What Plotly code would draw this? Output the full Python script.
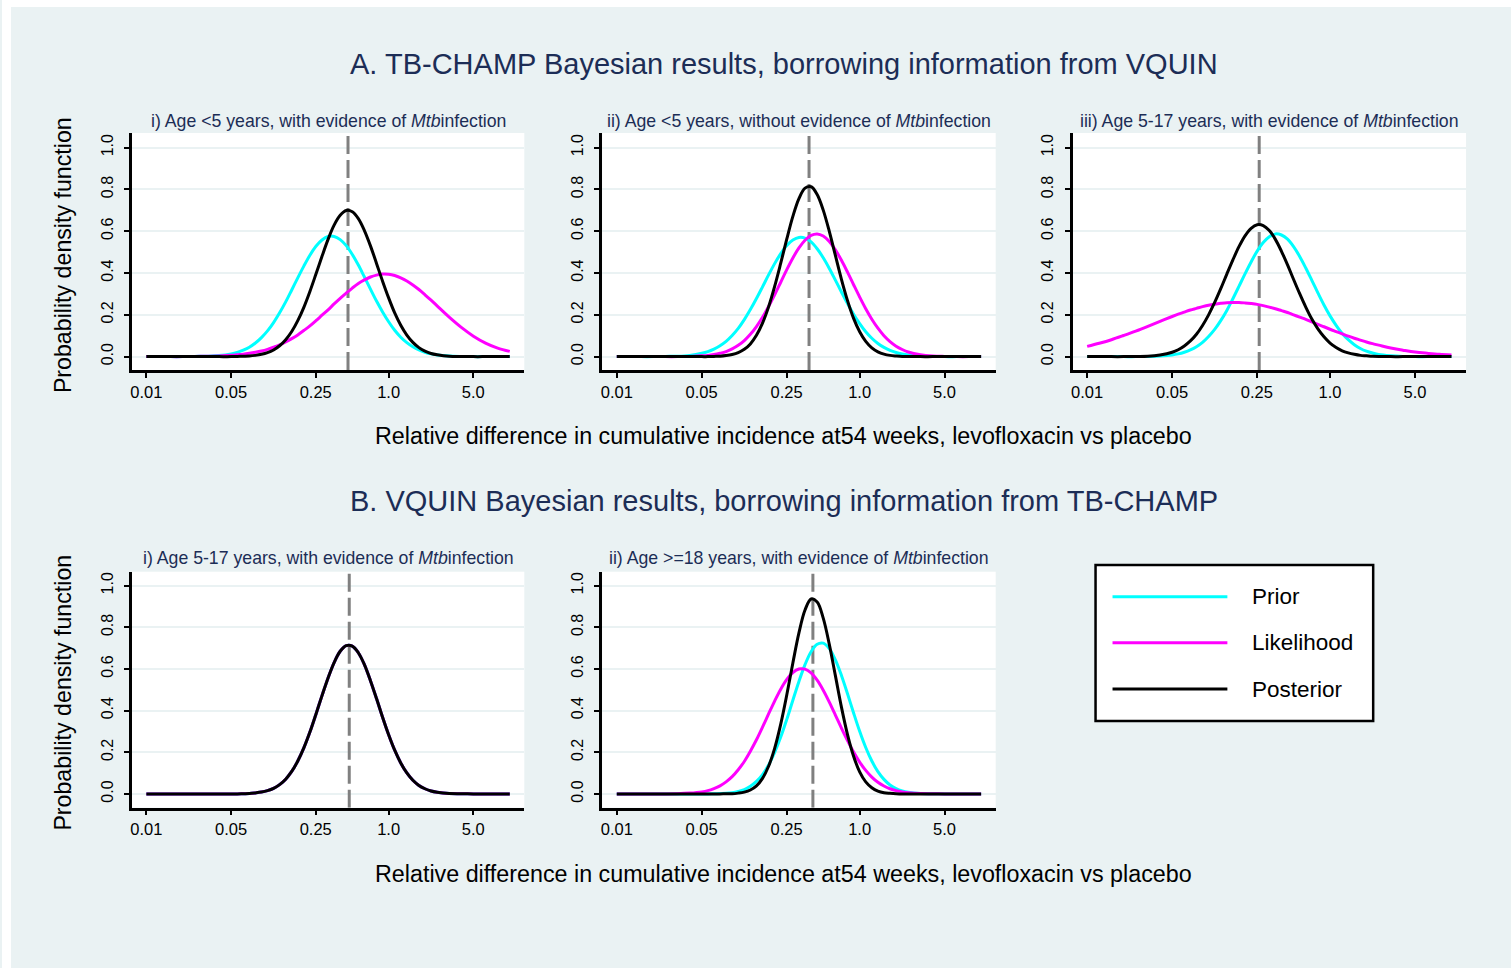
import plotly.graph_objects as go

W, H = 1511, 968

# ---------------- data ----------------
rel_diff = [0.01, 0.01259, 0.01585, 0.01995, 0.02512, 0.03162, 0.03981, 0.05012,
            0.05623, 0.0631, 0.07079, 0.07943, 0.08913, 0.1, 0.1122, 0.1259, 0.1413, 0.1585,
            0.1778, 0.1995, 0.2239, 0.2512, 0.2818, 0.3162, 0.3548, 0.3981, 0.4467, 0.5012,
            0.5623, 0.631, 0.7079, 0.7943, 0.8913, 1.0, 1.122, 1.259, 1.413, 1.585, 1.778,
            1.995, 2.239, 2.512,
            3.162, 3.981, 5.012, 6.31, 7.943, 10.0]

a1_prior = [0, 0, 0, 0, 0.001, 0.002, 0.005, 0.013,
            0.020, 0.031, 0.045, 0.065, 0.091, 0.123, 0.163, 0.210, 0.262, 0.319, 0.377, 0.433,
            0.485, 0.528, 0.558, 0.575, 0.575, 0.560, 0.531, 0.489, 0.438, 0.381, 0.323, 0.266,
            0.214, 0.167, 0.126, 0.093, 0.067, 0.047, 0.032, 0.021, 0.013, 0.008,
            0.003, 0.001, 0, 0, 0, 0]
a1_lik = [0, 0, 0, 0, 0.001, 0.002, 0.003, 0.006,
          0.009, 0.012, 0.016, 0.021, 0.027, 0.035, 0.045, 0.056, 0.070, 0.086, 0.104, 0.125,
          0.147, 0.172, 0.198, 0.224, 0.252, 0.279, 0.304, 0.328, 0.350, 0.367, 0.381, 0.390,
          0.395, 0.394, 0.388, 0.377, 0.362, 0.343, 0.321, 0.296, 0.270, 0.243,
          0.189, 0.140, 0.098, 0.065, 0.041, 0.025]
a1_post = [0, 0, 0, 0, 0, 0, 0, 0,
           0.001, 0.002, 0.003, 0.006, 0.011, 0.019, 0.032, 0.052, 0.081, 0.120, 0.172, 0.236,
           0.312, 0.395, 0.480, 0.561, 0.629, 0.676, 0.699, 0.693, 0.660, 0.603, 0.530, 0.446,
           0.361, 0.281, 0.209, 0.150, 0.103, 0.068, 0.043, 0.026, 0.015, 0.009,
           0.002, 0.001, 0, 0, 0, 0]

a2_prior = [0, 0, 0, 0, 0.001, 0.002, 0.006, 0.016,
            0.024, 0.036, 0.052, 0.073, 0.101, 0.135, 0.177, 0.225, 0.278, 0.334, 0.391, 0.445,
            0.493, 0.532, 0.558, 0.570, 0.567, 0.549, 0.516, 0.473, 0.422, 0.366, 0.309, 0.254,
            0.203, 0.158, 0.119, 0.088, 0.063, 0.044, 0.030, 0.020, 0.013, 0.008,
            0.003, 0.001, 0, 0, 0, 0]
a2_lik = [0, 0, 0, 0, 0, 0, 0.001, 0.004,
          0.006, 0.010, 0.016, 0.024, 0.037, 0.054, 0.077, 0.107, 0.144, 0.188, 0.240, 0.296,
          0.356, 0.416, 0.472, 0.520, 0.557, 0.580, 0.587, 0.577, 0.551, 0.511, 0.461, 0.404,
          0.344, 0.285, 0.229, 0.179, 0.136, 0.100, 0.072, 0.050, 0.034, 0.022,
          0.009, 0.003, 0.001, 0, 0, 0]
a2_post = [0, 0, 0, 0, 0, 0, 0, 0,
           0, 0.001, 0.002, 0.005, 0.010, 0.019, 0.035, 0.061, 0.102, 0.160, 0.238, 0.336,
           0.447, 0.563, 0.671, 0.756, 0.806, 0.813, 0.776, 0.701, 0.599, 0.484, 0.370, 0.268,
           0.183, 0.119, 0.073, 0.042, 0.023, 0.012, 0.006, 0.003, 0.001, 0.001,
           0, 0, 0, 0, 0, 0]

a3_prior = [0, 0, 0, 0, 0, 0.001, 0.003, 0.008,
            0.013, 0.021, 0.032, 0.047, 0.068, 0.096, 0.130, 0.172, 0.221, 0.277, 0.336, 0.396,
            0.453, 0.505, 0.546, 0.574, 0.587, 0.582, 0.562, 0.526, 0.479, 0.424, 0.365, 0.305,
            0.247, 0.195, 0.150, 0.111, 0.081, 0.057, 0.039, 0.026, 0.017, 0.010,
            0.004, 0.001, 0, 0, 0, 0]
a3_lik = [0.049, 0.064, 0.081, 0.101, 0.122, 0.145, 0.169, 0.192,
          0.203, 0.213, 0.223, 0.231, 0.239, 0.246, 0.251, 0.255, 0.258, 0.259, 0.259, 0.257,
          0.254, 0.250, 0.244, 0.237, 0.229, 0.220, 0.211, 0.200, 0.189, 0.178, 0.166, 0.154,
          0.143, 0.131, 0.120, 0.109, 0.098, 0.088, 0.079, 0.070, 0.062, 0.055,
          0.041, 0.031, 0.022, 0.016, 0.011, 0.008]
a3_post = [0, 0, 0, 0, 0.001, 0.002, 0.008, 0.021,
           0.033, 0.051, 0.075, 0.107, 0.149, 0.200, 0.259, 0.325, 0.395, 0.463, 0.526, 0.578,
           0.614, 0.631, 0.627, 0.603, 0.561, 0.504, 0.439, 0.369, 0.301, 0.237, 0.180, 0.133,
           0.095, 0.065, 0.044, 0.028, 0.018, 0.011, 0.006, 0.004, 0.002, 0.001,
           0, 0, 0, 0, 0, 0]

b1_post = [0, 0, 0, 0, 0, 0, 0, 0,
           0, 0.001, 0.002, 0.005, 0.009, 0.016, 0.027, 0.045, 0.071, 0.108, 0.158, 0.221,
           0.297, 0.383, 0.472, 0.557, 0.631, 0.685, 0.712, 0.710, 0.678, 0.621, 0.544, 0.458,
           0.368, 0.284, 0.210, 0.149, 0.101, 0.066, 0.041, 0.025, 0.014, 0.008,
           0.002, 0.001, 0, 0, 0, 0]
b1_prior = b1_post
b1_lik = b1_post

b2_prior = [0, 0, 0, 0, 0, 0, 0, 0,
            0, 0.001, 0.002, 0.003, 0.006, 0.012, 0.021, 0.037, 0.060, 0.093, 0.139, 0.200,
            0.273, 0.358, 0.450, 0.540, 0.621, 0.683, 0.719, 0.724, 0.698, 0.644, 0.569, 0.481,
            0.389, 0.301, 0.223, 0.158, 0.107, 0.070, 0.043, 0.026, 0.015, 0.008,
            0.002, 0.001, 0, 0, 0, 0]
b2_lik = [0, 0, 0, 0, 0, 0.001, 0.004, 0.010,
          0.016, 0.026, 0.039, 0.058, 0.083, 0.116, 0.156, 0.205, 0.260, 0.321, 0.384, 0.446,
          0.503, 0.550, 0.583, 0.600, 0.599, 0.581, 0.546, 0.498, 0.441, 0.379, 0.316, 0.256,
          0.201, 0.153, 0.113, 0.081, 0.056, 0.038, 0.025, 0.016, 0.010, 0.006,
          0.002, 0.001, 0, 0, 0, 0]
b2_post = [0, 0, 0, 0, 0, 0, 0, 0,
           0, 0, 0, 0.001, 0.001, 0.004, 0.009, 0.019, 0.039, 0.075, 0.133, 0.219,
           0.335, 0.476, 0.629, 0.773, 0.883, 0.936, 0.922, 0.844, 0.718, 0.568, 0.417, 0.285,
           0.181, 0.106, 0.058, 0.030, 0.014, 0.006, 0.003, 0.001, 0, 0,
           0, 0, 0, 0, 0, 0]

# posterior modes (dashed reference lines)
modes = [0.462, 0.383, 0.261, 0.473, 0.412]

x_tickvals = [0.01, 0.05, 0.25, 1.0, 5.0]
x_ticktext = ["0.01", "0.05", "0.25", "1.0", "5.0"]
y_tickvals = [0, 0.2, 0.4, 0.6, 0.8, 1.0]
y_ticktext = ["0.0", "0.2", "0.4", "0.6", "0.8", "1.0"]

section_titles = ["A. TB-CHAMP Bayesian results, borrowing information from VQUIN",
                  "B. VQUIN Bayesian results, borrowing information from TB-CHAMP"]
panel_titles = ["i) Age &lt;5 years, with evidence of <i>Mtb</i>infection",
                "ii) Age &lt;5 years, without evidence of <i>Mtb</i>infection",
                "iii) Age 5-17 years, with evidence of <i>Mtb</i>infection",
                "i) Age 5-17 years, with evidence of <i>Mtb</i>infection",
                "ii) Age &gt;=18 years, with evidence of <i>Mtb</i>infection"]
x_title = "Relative difference in cumulative incidence at54 weeks, levofloxacin vs placebo"
y_title = "Probability density function"
series_names = ["Prior", "Likelihood", "Posterior"]

panel_curves = [(a1_prior, a1_lik, a1_post), (a2_prior, a2_lik, a2_post),
                (a3_prior, a3_lik, a3_post), (b1_prior, b1_lik, b1_post),
                (b2_prior, b2_lik, b2_post)]

# ---------------- styling ----------------
FONT = "Liberation Sans, Arial, Helvetica, sans-serif"
BG = "#EAF2F3"
NAVY = "#1c2d56"
COLORS = ["#00FFFF", "#FF00FF", "#000000"]


def px(x):
    return x / W


def py(y):
    return 1 - y / H


col_dom = [[px(130), px(523)], [px(601), px(995)], [px(1072), px(1466)]]
row_dom = [[py(370), py(133)], [py(807.7), py(571.7)]]
y_ranges = [[-0.064, 1.07], [-0.066, 1.067]]
x_range = [-2.12, 1.12]
layout_pos = [(0, 0), (0, 1), (0, 2), (1, 0), (1, 1)]

fig = go.Figure()
layout = dict(
    width=W, height=H, margin=dict(l=0, r=0, t=0, b=0),
    paper_bgcolor=BG, plot_bgcolor="white", showlegend=False,
    font=dict(family=FONT, color="black"),
)
annotations = []
shapes = []

for i, ((r, c), curves) in enumerate(zip(layout_pos, panel_curves)):
    sfx = "" if i == 0 else str(i + 1)
    xa, ya = f"x{sfx}", f"y{sfx}"
    yr = y_ranges[r]
    # dashed reference line at posterior mode
    fig.add_trace(go.Scatter(x=[modes[i], modes[i]], y=yr, mode="lines",
                             line=dict(color="#808080", width=3, dash="18px,6px"),
                             xaxis=xa, yaxis=ya, hoverinfo="skip"))
    for name, yv, col in zip(series_names, curves, COLORS):
        fig.add_trace(go.Scatter(x=rel_diff, y=yv, mode="lines", name=name,
                                 line=dict(color=col, width=3, shape="spline"),
                                 xaxis=xa, yaxis=ya))
    layout[f"xaxis{sfx}"] = dict(
        domain=col_dom[c], anchor=ya, type="log", range=x_range,
        tickvals=x_tickvals, ticktext=x_ticktext, ticks="outside", ticklen=5,
        tickwidth=2, tickcolor="black", showline=True, linecolor="black", linewidth=2.5,
        showgrid=False, zeroline=False, tickfont=dict(size=16.5, color="black"),
        ticklabelstandoff=0,
    )
    layout[f"yaxis{sfx}"] = dict(
        domain=row_dom[r], anchor=xa, range=yr,
        tickvals=y_tickvals, ticktext=y_ticktext, ticks="outside", ticklen=5,
        tickwidth=2, tickcolor="black", showline=True, linecolor="black", linewidth=2.5,
        showgrid=True, gridcolor=BG, gridwidth=2, zeroline=False, tickangle=-90,
        tickfont=dict(size=16, color="black"), ticklabelstandoff=5,
    )
    annotations.append(dict(text=panel_titles[i], xref=f"{xa} domain", x=0.5,
                            yref="paper", y=py(120.7 if r == 0 else 558.3),
                            xanchor="center", yanchor="middle", showarrow=False,
                            font=dict(size=17.7, color=NAVY)))

for r, yt, yx, yy in [(0, 64, 436, 255.5), (1, 501, 874, 693)]:
    annotations.append(dict(text=section_titles[r], xref="paper", yref="paper",
                            x=px(783), y=py(yt), xanchor="center", yanchor="middle",
                            showarrow=False, font=dict(size=29, color=NAVY)))
    annotations.append(dict(text=x_title, xref="paper", yref="paper",
                            x=px(782.5), y=py(yx), xanchor="center", yanchor="middle",
                            showarrow=False, font=dict(size=23.3, color="black")))
    annotations.append(dict(text=y_title, xref="paper", yref="paper",
                            x=px(60.7), y=py(yy), xanchor="center", yanchor="middle",
                            textangle=-90, showarrow=False,
                            font=dict(size=23.2, color="black")))

# white border strips of the image (outside graph region)
shapes.append(dict(type="rect", xref="paper", yref="paper", x0=0, x1=px(9), y0=0, y1=1,
                   fillcolor="white", line=dict(width=0), layer="below"))
shapes.append(dict(type="rect", xref="paper", yref="paper", x0=0, x1=1, y0=py(7), y1=1,
                   fillcolor="white", line=dict(width=0), layer="below"))

# legend box
shapes.append(dict(type="rect", xref="paper", yref="paper", x0=px(1095), x1=px(1373),
                   y0=py(721), y1=py(565), fillcolor="white",
                   line=dict(color="black", width=2.5), layer="above"))
for name, col, yl in zip(series_names, COLORS, [596.7, 642.7, 689]):
    shapes.append(dict(type="line", xref="paper", yref="paper", x0=px(1112), x1=px(1227),
                       y0=py(yl), y1=py(yl), line=dict(color=col, width=3), layer="above"))
    annotations.append(dict(text=name, xref="paper", yref="paper", x=px(1250), y=py(yl),
                            xanchor="left", yanchor="middle", showarrow=False,
                            font=dict(size=22.5, color="black")))

layout["annotations"] = annotations
layout["shapes"] = shapes
fig.update_layout(**layout)

fig.write_html("out.html", config={"displayModeBar": False},
               post_script="document.body.style.margin='0';document.body.style.overflow='hidden';")
